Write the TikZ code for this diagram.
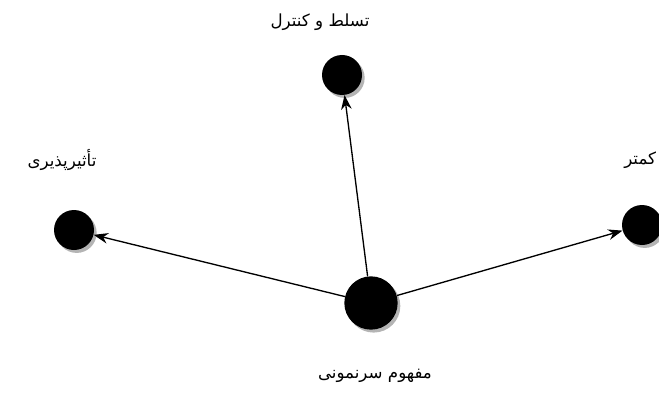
\documentclass[tikz,border=0pt]{standalone}
\usepackage{fontspec}
\usetikzlibrary{arrows.meta, positioning, shadows}
\TeXXeTstate=1
\newfontfamily\arabicfont[Script=Arabic]{DejaVu Sans}
\definecolor{shade}{HTML}{B4B4B4}
\tikzset{
  dot/.style={circle, fill=black, inner sep=0pt, minimum size=30pt,
    drop shadow={shadow xshift=2pt, shadow yshift=-2.2pt, fill=shade, opacity=1}},
  bigdot/.style={dot, minimum size=40pt},
  term/.style={font=\arabicfont\fontsize{12.5}{14}\selectfont, inner sep=0pt},
  arrow/.style={-{Stealth[length=3.8mm, width=2.8mm]}, line width=1pt},
}
\begin{document}
\begin{tikzpicture}[x=0.75pt, y=-0.75pt]
\useasboundingbox (0,0) rectangle (659,392);
% circles
\node[bigdot] (proto) at (371,303) {};
\node[dot] (control) at (342,75) {};
\node[dot] (affect) at (74,230) {};
\node[dot] (less) at (642,225) {};
% labels
\node[term] (tcontrol) at (320,22) {\beginR تسلط و کنترل\endR};
\node[term] (taffect) at (62,160) {\beginR تأثیرپذیری\endR};
\node[term, anchor=west] (tless) at (624,160) {\beginR کمتر\endR};
\node[term] (tproto) at (375,376) {\beginR مفهوم سرنمونی\endR};
% arrows
\draw[arrow] (proto) -- (control);
\draw[arrow] (proto) -- (affect);
\draw[arrow] (proto) -- (less);
\end{tikzpicture}
\end{document}
